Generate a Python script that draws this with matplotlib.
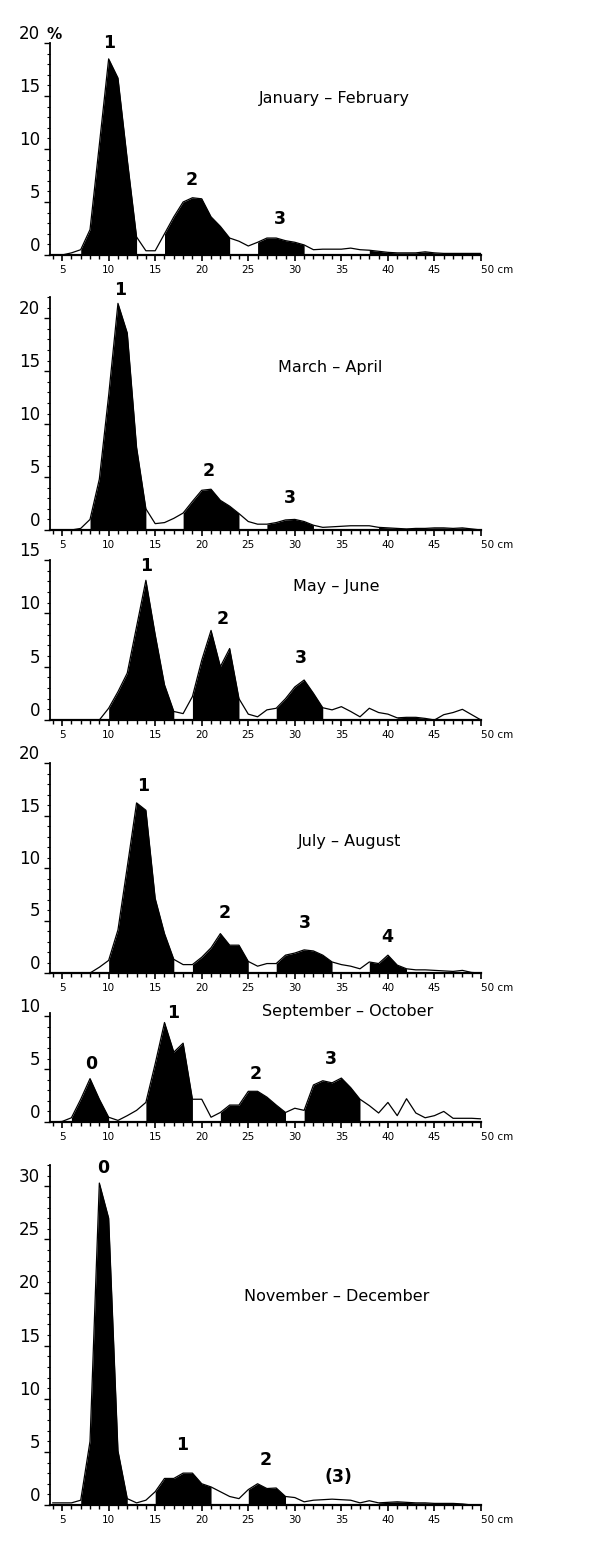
import matplotlib.pyplot as plt
from matplotlib.ticker import MultipleLocator

# length classes (cm) and percent frequency per two-month period
size_cm = list(range(4, 51))

jan_feb = [0, 0, 0.2, 0.5, 2.4, 10.4, 18.5, 16.7, 9.0, 1.7,
           0.4, 0.4, 2.0, 3.6, 5.0, 5.4, 5.3, 3.6, 2.7, 1.6,
           1.3, 0.85, 1.2, 1.6, 1.6, 1.35, 1.2, 0.95, 0.5, 0.55,
           0.55, 0.55, 0.65, 0.5, 0.45, 0.35, 0.25, 0.2, 0.2, 0.2,
           0.3, 0.2, 0.15, 0.15, 0.15, 0.15, 0.15]
mar_apr = [0, 0, 0, 0.15, 1.0, 4.8, 12.7, 21.4, 18.6, 7.8,
           2.0, 0.6, 0.7, 1.1, 1.6, 2.7, 3.75, 3.85, 2.8, 2.25,
           1.55, 0.8, 0.55, 0.55, 0.7, 0.95, 1.0, 0.8, 0.45, 0.25,
           0.3, 0.35, 0.4, 0.4, 0.4, 0.25, 0.2, 0.15, 0.1, 0.15,
           0.15, 0.2, 0.2, 0.15, 0.2, 0.1, 0]
may_jun = [0, 0, 0, 0, 0, 0, 1.1, 2.65, 4.4, 8.75,
           13.1, 8.0, 3.3, 0.8, 0.6, 2.2, 5.6, 8.4, 5.0, 6.7,
           2.0, 0.55, 0.3, 0.95, 1.1, 2.0, 3.1, 3.75, 2.5, 1.15,
           0.95, 1.25, 0.8, 0.3, 1.1, 0.7, 0.55, 0.2, 0.25, 0.25,
           0.15, 0, 0.5, 0.7, 1.0, 0.5, 0]
jul_aug = [0, 0, 0, 0, 0, 0.55, 1.2, 4.1, 10.1, 16.2,
           15.5, 7.1, 3.75, 1.3, 0.8, 0.8, 1.5, 2.4, 3.75, 2.65,
           2.65, 1.1, 0.65, 0.9, 0.9, 1.7, 1.9, 2.2, 2.1, 1.7,
           1.05, 0.8, 0.65, 0.4, 1.05, 0.9, 1.7, 0.75, 0.4, 0.3,
           0.3, 0.25, 0.2, 0.15, 0.25, 0.05, 0]
sep_oct = [0, 0.05, 0.4, 2.15, 4.1, 2.15, 0.45, 0.15, 0.6, 1.1,
           1.85, 5.5, 9.4, 6.6, 7.45, 2.15, 2.15, 0.45, 0.9, 1.6,
           1.6, 2.9, 2.9, 2.35, 1.6, 0.9, 1.3, 1.1, 3.5, 3.9,
           3.7, 4.15, 3.25, 2.15, 1.55, 0.85, 1.85, 0.6, 2.2, 0.85,
           0.4, 0.6, 1.0, 0.35, 0.35, 0.35, 0.3]
nov_dec = [0.2, 0.2, 0.2, 0.45, 6.0, 30.3, 27.0, 5.1, 0.6, 0.2,
           0.45, 1.25, 2.5, 2.5, 3.0, 3.0, 2.0, 1.7, 1.25, 0.8,
           0.6, 1.45, 2.0, 1.55, 1.6, 0.8, 0.7, 0.3, 0.45, 0.5,
           0.55, 0.5, 0.45, 0.2, 0.4, 0.2, 0.25, 0.3, 0.25, 0.2,
           0.2, 0.15, 0.15, 0.15, 0.1, 0, 0]

titles = ["January \u2013 February", "March \u2013 April", "May \u2013 June",
          "July \u2013 August", "September \u2013 October", "November \u2013 December"]

# shaded age groups (cm ranges)
jan_feb_groups = [(7, 13), (16, 23), (26, 31), (38, 50)]
mar_apr_groups = [(8, 14), (18, 24), (27, 32), (39, 49)]
may_jun_groups = [(10, 17), (19, 24), (28, 33), (41, 44)]
jul_aug_groups = [(10, 17), (19, 25), (28, 34), (38, 42)]
sep_oct_groups = [(6, 10), (14, 19), (22, 29), (31, 37)]
nov_dec_groups = [(7, 12), (15, 21), (25, 29), (39, 48)]

# age group labels: text, cm, percent
jan_feb_labels = [("1", 10.1, 20.0), ("2", 18.9, 7.1), ("3", 28.4, 3.4)]
mar_apr_labels = [("1", 11.2, 22.7), ("2", 20.7, 5.6), ("3", 29.5, 3.0)]
may_jun_labels = [("1", 14.0, 14.4), ("2", 22.3, 9.5), ("3", 30.6, 5.8)]
jul_aug_labels = [("1", 13.7, 17.8), ("2", 22.5, 5.7), ("3", 31.1, 4.8), ("4", 39.9, 3.4)]
sep_oct_labels = [("0", 8.1, 5.5), ("1", 16.9, 10.3), ("2", 25.8, 4.5), ("3", 33.9, 6.0)]
nov_dec_labels = [("0", 9.4, 31.7), ("1", 17.9, 5.6), ("2", 26.9, 4.2), ("(3)", 34.7, 2.6)]

series = [jan_feb, mar_apr, may_jun, jul_aug, sep_oct, nov_dec]
groups = [jan_feb_groups, mar_apr_groups, may_jun_groups, jul_aug_groups, sep_oct_groups, nov_dec_groups]
labels = [jan_feb_labels, mar_apr_labels, may_jun_labels, jul_aug_labels, sep_oct_labels, nov_dec_labels]

# layout in pixels: baseline y, top y, ymax, title position (cm, %)
layout = [
    (255, 43, 20, (34.2, 14.8)),
    (530, 297, 22, (33.8, 15.3)),
    (720, 560, 15, (34.5, 12.5)),
    (973, 763, 20, (35.9, 12.5)),
    (1122, 1013, 10.3, (35.7, 10.4)),
    (1505, 1165, 32, (34.5, 19.6)),
]

W, H = 600, 1560
fig = plt.figure(figsize=(W / 100, H / 100), dpi=100)
left_px, right_px = 50, 481

for i, (vals, grp, lab, (base, top, ymax, tpos)) in enumerate(zip(series, groups, labels, layout)):
    ax = fig.add_axes([left_px / W, (H - base) / H, (right_px - left_px) / W, (base - top) / H])
    ax.plot(size_cm, vals, color="black", lw=0.9)
    for a, b in grp:
        ax.fill_between(size_cm, vals, 0, where=[a <= s <= b for s in size_cm],
                        color="black", lw=0)
    ax.set_xlim(3.7, 50)
    ax.set_ylim(0, ymax)
    for sp in ["top", "right"]:
        ax.spines[sp].set_visible(False)
    ax.spines["left"].set_linewidth(1.3)
    ax.spines["bottom"].set_linewidth(1.6)

    ax.xaxis.set_minor_locator(MultipleLocator(1))
    ax.set_xticks(range(5, 51, 5))
    ax.set_xticklabels([str(v) for v in range(5, 50, 5)] + ["50 cm"], fontsize=7.5)
    ax.get_xticklabels()[-1].set_horizontalalignment("left")
    ax.tick_params(axis="x", which="major", length=4, width=1.2, pad=3)
    ax.tick_params(axis="x", which="minor", length=3, width=1)

    ax.yaxis.set_major_locator(MultipleLocator(5))
    ax.yaxis.set_minor_locator(MultipleLocator(1))
    ax.tick_params(axis="y", which="major", length=4, width=1, pad=3, labelsize=12)
    ax.tick_params(axis="y", which="minor", length=2, width=0.8)
    for t in ax.get_yticklabels():
        t.set_verticalalignment("bottom")

    ax.text(tpos[0], tpos[1], titles[i], ha="center", va="center", fontsize=11.5)
    for txt, x, y in lab:
        ax.text(x, y, txt, ha="center", va="center", fontsize=12.5,
                fontweight="semibold", clip_on=False)

    if i == 0:
        ax.text(-0.008, 1.04, "%", transform=ax.transAxes, ha="left", va="center",
                fontsize=11, fontweight="bold")

fig.savefig("out.png", dpi=100, facecolor="white")
